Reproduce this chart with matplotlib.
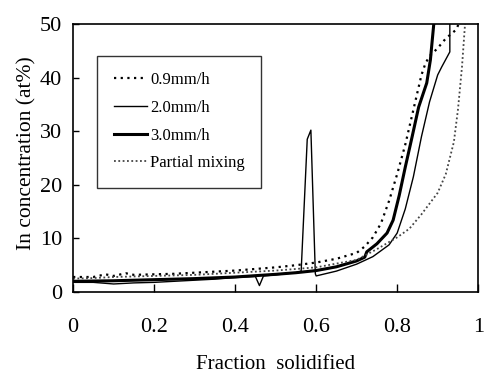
import matplotlib
matplotlib.use("Agg")
import matplotlib.pyplot as plt

plt.rcParams['font.family'] = ['Liberation Serif', 'DejaVu Serif']

# 0.9 mm/h (coarse dots)
x_09 = [0, 0.05, 0.08, 0.1, 0.13, 0.15, 0.2, 0.25, 0.3, 0.35, 0.4, 0.45, 0.5, 0.55,
        0.6, 0.65, 0.7, 0.72, 0.74, 0.76, 0.78, 0.8, 0.82, 0.84, 0.86, 0.87, 0.88,
        0.9, 0.92, 0.945, 0.955]
y_09 = [2.8, 2.8, 3.3, 3.0, 3.5, 3.2, 3.3, 3.4, 3.6, 3.8, 4.0, 4.3, 4.6, 5.0,
        5.5, 6.2, 7.3, 8.5, 10.2, 12.8, 17.0, 22.0, 27.5, 34.0, 40.5, 42.7, 44.0,
        45.5, 47.3, 48.9, 50.5]

# 2.0 mm/h (thin solid)
x_20 = [0, 0.05, 0.1, 0.15, 0.2, 0.25, 0.3, 0.35, 0.4, 0.45, 0.46, 0.47, 0.5, 0.55,
        0.563, 0.578, 0.587, 0.598, 0.6, 0.65, 0.7, 0.74, 0.78, 0.8, 0.82, 0.84,
        0.86, 0.88, 0.9, 0.91, 0.93, 0.93]
y_20 = [1.8, 1.8, 1.5, 1.7, 1.8, 2.0, 2.2, 2.4, 2.7, 2.9, 1.2, 3.0, 3.2, 3.6,
        3.9, 28.5, 30.2, 3.4, 3.0, 3.9, 5.2, 6.6, 8.8, 11.0, 15.5, 21.5,
        29.0, 35.5, 40.5, 42.0, 44.8, 51.0]

# 3.0 mm/h (thick solid)
x_30 = [0, 0.1, 0.2, 0.3, 0.4, 0.5, 0.55, 0.6, 0.65, 0.7, 0.72, 0.725, 0.75,
        0.775, 0.79, 0.805, 0.82, 0.837, 0.853, 0.873, 0.882, 0.891]
y_30 = [2.0, 2.1, 2.3, 2.5, 2.8, 3.3, 3.6, 4.0, 4.7, 5.8, 6.5, 7.5, 9.0,
        11.0, 13.4, 18.0, 23.3, 29.0, 34.5, 39.0, 43.3, 50.5]

# Partial mixing (fine dots)
x_pm = [0, 0.05, 0.1, 0.15, 0.2, 0.25, 0.3, 0.4, 0.5, 0.6, 0.7, 0.75, 0.8, 0.83,
        0.86, 0.9, 0.92, 0.94, 0.95, 0.96, 0.968]
y_pm = [2.5, 2.6, 2.8, 2.9, 3.0, 3.1, 3.2, 3.6, 4.0, 4.6, 6.0, 8.0, 10.2, 11.8,
        14.5, 18.5, 22.0, 28.0, 34.0, 42.0, 50.5]

x_ticks = [0, 0.2, 0.4, 0.6, 0.8, 1]
x_labels = ['0', '0.2', '0.4', '0.6', '0.8', '1']
y_ticks = [0, 10, 20, 30, 40, 50]

fig = plt.figure(figsize=(4.84, 3.88), dpi=100)
ax = fig.add_axes([0.151, 0.2474, 0.837, 0.6907])

ax.plot(x_09, y_09, color='black', lw=1.6, linestyle=(0, (1, 2)), label='0.9mm/h')
ax.plot(x_20, y_20, color='black', lw=1.0, label='2.0mm/h')
ax.plot(x_30, y_30, color='black', lw=2.2, label='3.0mm/h')
ax.plot(x_pm, y_pm, color='#444444', lw=1.3, linestyle=(0, (1, 1.4)), label='Partial mixing')

ax.set_xlim(0, 1)
ax.set_ylim(0, 50)
ax.set_xticks(x_ticks)
ax.set_xticklabels(x_labels)
ax.set_yticks(y_ticks)
ax.tick_params(axis='x', direction='in', length=6, width=1, labelsize=16, pad=19)
ax.tick_params(axis='y', direction='in', length=4, width=1, labelsize=16, pad=8)
for s in ax.spines.values():
    s.set_linewidth(1.2)

ax.set_xlabel('Fraction  solidified', fontsize=15)
ax.xaxis.label.set_va('top')
ax.xaxis.set_label_coords(0.5, -0.235)
ax.set_ylabel('In concentration (at%)', fontsize=15.5)
ax.yaxis.label.set_va('center')
ax.yaxis.set_label_coords(-0.115, 0.52)

leg = ax.legend(loc='upper left', bbox_to_anchor=(0.06, 0.882), fontsize=12,
                frameon=True, fancybox=False, edgecolor='black',
                handlelength=2.0, handletextpad=0.15, labelspacing=0.7,
                borderpad=1.0, borderaxespad=0)
leg.get_frame().set_linewidth(1.0)

fig.savefig('out.png', dpi=100)
